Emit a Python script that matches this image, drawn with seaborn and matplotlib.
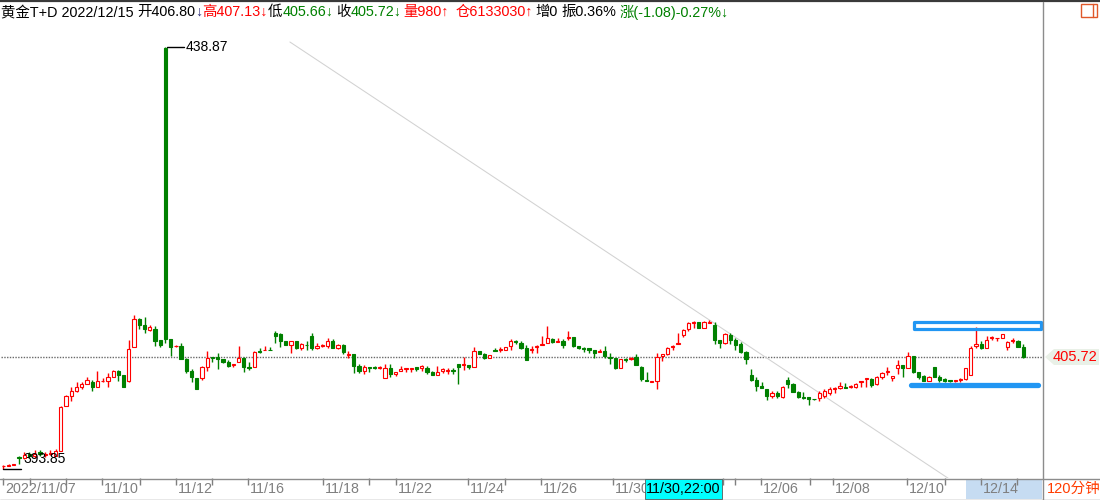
import matplotlib
matplotlib.use("Agg")
import matplotlib.pyplot as plt
import matplotlib.transforms as mtransforms
from matplotlib.patches import Rectangle, Polygon
from matplotlib.lines import Line2D
import seaborn as sns
import numpy as np

# --- data: 黄金T+D, 120分钟 bars, 2022/11/07 .. 2022/12/15 ---
opens = [
    394.10, 394.15, 394.28, 395.15, 395.00, 395.40, 395.20, 395.60, 395.30, 395.45,
    395.24, 395.77, 400.58, 401.61, 402.18, 402.60, 402.92, 403.10, 402.60, 403.20,
    403.21, 403.67, 404.28, 403.85, 403.21, 406.87, 409.80, 409.19, 408.70, 408.80,
    407.59, 438.70, 407.66, 406.90, 406.95, 405.60, 404.28, 403.50, 403.53, 404.74,
    405.74, 405.74, 405.55, 405.24, 404.90, 405.20, 405.70, 404.70, 404.74, 406.45,
    406.50, 406.55, 408.30, 408.20, 407.48, 407.05, 407.48, 406.70, 407.10, 408.01,
    406.70, 406.95, 406.98, 407.48, 406.70, 407.05, 406.00, 406.10, 404.81, 404.31,
    404.70, 404.75, 404.65, 403.50, 404.57, 403.96, 404.30, 404.45, 404.45, 404.67,
    404.60, 404.63, 404.14, 403.85, 404.30, 404.30, 404.40, 405.00, 404.90, 404.92,
    404.74, 406.41, 406.09, 405.63, 406.56, 406.50, 406.55, 406.95, 407.45, 407.30,
    406.77, 406.50, 406.80, 407.00, 407.23, 407.70, 407.40, 407.48, 407.80, 407.88,
    406.95, 406.70, 406.77, 406.52, 406.30, 406.41, 405.80, 405.70, 404.63, 405.55,
    405.53, 405.74, 404.74, 403.30, 403.15, 403.25, 405.90, 406.09, 406.80, 407.20,
    408.12, 408.73, 409.37, 409.47, 408.90, 409.40, 409.19, 407.59, 407.30, 408.12,
    407.59, 407.13, 406.34, 403.85, 403.32, 402.71, 402.36, 401.61, 401.97, 401.54,
    403.32, 402.89, 402.07, 401.54, 401.47, 401.30, 401.36, 401.61, 401.97, 402.40,
    402.50, 402.55, 402.60, 402.60, 403.15, 403.40, 403.39, 402.86, 403.61, 404.20,
    403.55, 404.63, 404.92, 404.63, 405.88, 404.14, 403.75, 403.25, 404.74, 403.67,
    403.40, 403.30, 403.20, 403.30, 403.43, 403.85, 406.95, 407.16, 406.70, 407.75,
    407.75, 407.84, 406.87, 407.50, 407.50, 406.80,
]
highs = [
    394.30, 394.35, 394.35, 395.20, 395.60, 395.60, 395.80, 395.80, 395.60, 395.85,
    395.93, 400.54, 401.72, 402.54, 403.10, 403.14, 403.64, 403.30, 404.30, 403.50,
    404.10, 404.40, 404.35, 403.90, 407.60, 410.26, 409.90, 410.07, 409.20, 409.10,
    407.60, 438.87, 407.70, 407.00, 407.27, 405.65, 404.50, 403.50, 404.81, 406.45,
    405.75, 406.23, 405.60, 405.40, 405.02, 406.95, 405.75, 405.20, 406.40, 406.70,
    406.90, 406.80, 408.55, 408.30, 407.50, 407.50, 407.50, 407.30, 407.48, 408.37,
    407.30, 407.20, 407.77, 407.65, 407.20, 407.16, 406.40, 406.10, 405.00, 404.92,
    404.70, 404.85, 404.78, 404.99, 404.99, 404.20, 404.80, 404.57, 404.57, 404.70,
    404.92, 404.80, 404.30, 404.81, 404.60, 404.55, 404.55, 405.00, 405.74, 404.92,
    406.84, 406.41, 406.20, 405.95, 406.70, 406.80, 406.80, 407.66, 407.60, 407.50,
    407.10, 406.95, 407.10, 408.00, 409.08, 407.80, 407.77, 407.70, 408.55, 407.90,
    406.95, 406.80, 406.77, 406.52, 406.60, 406.95, 406.23, 405.70, 405.60, 405.70,
    405.80, 406.09, 404.80, 404.13, 403.25, 406.23, 406.10, 406.80, 407.05, 408.30,
    408.76, 409.50, 409.60, 409.50, 409.60, 409.70, 409.47, 407.60, 408.30, 408.30,
    407.77, 407.40, 406.40, 404.49, 403.67, 403.10, 402.40, 402.10, 402.14, 402.70,
    403.67, 402.95, 402.14, 402.00, 401.50, 401.30, 402.14, 402.36, 402.60, 402.60,
    403.07, 403.00, 402.80, 403.05, 403.25, 403.50, 403.50, 403.70, 404.20, 404.70,
    403.70, 405.45, 404.95, 406.34, 405.90, 404.20, 403.80, 403.75, 404.74, 403.85,
    403.50, 403.35, 403.35, 403.50, 404.63, 406.90, 409.00, 407.50, 408.00, 408.00,
    407.80, 408.20, 407.50, 407.80, 407.60, 407.13,
]
lows = [
    393.85, 394.10, 394.25, 394.35, 394.90, 395.00, 395.00, 395.20, 395.10, 395.30,
    395.20, 395.71, 400.50, 401.11, 402.00, 402.40, 402.86, 402.15, 402.60, 403.15,
    402.60, 403.60, 403.20, 402.55, 403.14, 406.80, 408.73, 408.37, 408.50, 406.95,
    406.87, 407.24, 405.88, 406.85, 405.60, 404.10, 403.14, 402.36, 403.32, 404.31,
    405.20, 404.50, 405.10, 404.70, 404.70, 405.20, 404.20, 404.40, 404.70, 406.20,
    406.50, 406.50, 407.30, 406.87, 407.00, 406.23, 406.60, 406.50, 406.52, 406.52,
    406.60, 406.85, 406.70, 406.70, 406.60, 406.10, 405.63, 404.10, 404.10, 403.93,
    404.20, 404.50, 404.50, 403.50, 403.60, 403.70, 404.30, 404.20, 404.20, 404.30,
    404.31, 404.00, 403.85, 403.85, 404.10, 404.00, 403.95, 402.89, 404.39, 404.50,
    404.74, 406.10, 405.60, 405.63, 406.45, 406.34, 406.55, 406.52, 407.20, 406.60,
    405.45, 406.23, 406.23, 407.00, 407.23, 407.23, 407.40, 406.77, 407.59, 406.80,
    406.60, 406.30, 406.20, 405.63, 406.30, 405.63, 405.00, 404.50, 404.60, 405.20,
    405.50, 404.92, 403.25, 403.20, 403.10, 402.36, 405.35, 406.00, 406.52, 407.16,
    407.90, 408.60, 408.90, 408.90, 408.85, 409.40, 407.16, 406.70, 407.20, 407.16,
    406.52, 406.20, 404.99, 403.25, 402.14, 402.43, 401.18, 401.40, 401.40, 401.40,
    402.50, 402.07, 401.40, 401.25, 400.65, 401.20, 401.08, 401.36, 401.72, 401.90,
    402.36, 402.45, 402.50, 402.50, 402.60, 402.60, 402.60, 402.80, 403.40, 403.80,
    403.25, 403.96, 403.60, 404.63, 404.10, 403.40, 403.20, 403.25, 403.60, 403.15,
    403.15, 403.15, 403.15, 403.15, 403.32, 403.85, 406.70, 406.60, 406.70, 407.60,
    407.50, 407.84, 406.52, 407.30, 406.80, 405.66,
]
closes = [
    394.17, 394.22, 394.32, 395.00, 395.30, 395.20, 395.45, 395.40, 395.45, 395.55,
    395.74, 400.47, 401.61, 402.14, 402.54, 402.90, 403.32, 402.60, 403.20, 403.25,
    403.64, 404.28, 403.85, 402.60, 406.60, 409.80, 409.19, 408.73, 408.95, 407.50,
    407.05, 407.66, 406.81, 406.95, 405.60, 404.31, 403.67, 402.36, 404.67, 405.70,
    405.65, 405.60, 405.27, 404.85, 405.00, 405.63, 404.74, 404.65, 406.34, 406.30,
    406.55, 406.50, 408.00, 407.48, 407.05, 407.48, 406.70, 407.19, 407.05, 406.77,
    406.95, 407.05, 407.48, 406.77, 407.05, 406.34, 406.10, 404.85, 404.31, 404.67,
    404.60, 404.65, 404.75, 404.57, 403.96, 404.20, 404.50, 404.55, 404.55, 404.50,
    404.80, 404.14, 403.85, 404.14, 404.45, 404.40, 404.30, 404.70, 405.00, 404.67,
    406.41, 406.12, 405.70, 405.95, 406.45, 406.60, 406.80, 407.48, 407.35, 406.77,
    405.45, 406.60, 406.95, 407.20, 407.77, 407.40, 407.50, 407.05, 407.90, 406.95,
    406.70, 406.60, 406.55, 406.20, 406.40, 405.91, 405.70, 404.57, 405.53, 405.40,
    405.70, 404.92, 403.43, 403.20, 403.20, 405.80, 406.10, 406.70, 406.95, 407.30,
    408.65, 409.37, 409.50, 408.90, 409.47, 409.55, 407.59, 407.23, 408.20, 407.59,
    407.05, 406.34, 405.53, 403.32, 402.71, 402.43, 401.61, 401.97, 401.61, 402.60,
    402.89, 402.07, 401.54, 401.36, 401.29, 401.25, 401.97, 402.14, 402.36, 402.50,
    402.65, 402.48, 402.72, 402.89, 403.25, 403.50, 402.79, 403.61, 404.03, 404.30,
    403.70, 404.92, 404.63, 405.88, 404.20, 403.67, 403.25, 403.61, 403.67, 403.32,
    403.25, 403.20, 403.30, 403.40, 404.57, 406.77, 407.16, 406.70, 407.59, 407.90,
    407.80, 408.20, 407.40, 407.60, 406.87, 405.72,
]

# day ticks on the time axis (bar positions) and the dates printed beside them
tick_pos = [-0.05, 5.1, 12.0, 18.9, 26.1, 33.0, 39.9, 46.8, 61.1, 69.9, 75.1, 88.9,
            95.9, 102.8, 116.6, 137.6, 139.9, 144.9, 154.2, 158.6, 172.8, 180.1,
            186.9, 193.8]
tick_labels = ["2022/11/07", "", "", "11/10", "", "11/12", "", "11/16", "11/18", "",
               "11/22", "11/24", "", "11/26", "11/30", "", "", "12/06", "", "12/08",
               "12/10", "", "12/14", ""]

# header quote values
symbol = "黄金T+D"
quote_date = "2022/12/15"
volume = 980
open_interest = 6133030
oi_change = 0
amplitude = "0.36%"
change = "(-1.08)-0.27%"

# user drawings: trend line and the two blue range marks
trend_x = [54.8, 182.0]
trend_y = [439.39, 392.34]
box_top = [408.80, 409.51]
box_bottom = 402.79
box_x = [174.1, 198.5]

RED = "#ff0000"
GREEN = "#008000"
GREY = "#7f7f7f"
BLUE = "#2196f3"
FAM = ["Liberation Sans", "Noto Sans CJK SC", "DejaVu Sans"]

sns.set_theme(style="white")
plt.rcParams["font.family"] = FAM

W, H = 1100, 500
fig = plt.figure(figsize=(11, 5), dpi=100)
fig.patch.set_facecolor("white")
ax = fig.add_axes([1 / W, 22 / H, 1042 / W, 475 / H])
ax.set_facecolor("white")
ax.set_xlim(-0.44, 198.8)
ax.set_ylim(392.86, 443.55)
for sp in ax.spines.values():
    sp.set_visible(False)
ax.set_yticks([])

# --- candles ---
o = np.array(opens)
c = np.array(closes)
h = np.array(highs)
l = np.array(lows)
x = np.arange(len(o))
up = c >= o
lo_b = np.minimum(o, c)
hi_b = np.maximum(o, c)
hgt = np.maximum(hi_b - lo_b, 0.04)

ax.vlines(x[up], l[up], h[up], color=RED, lw=1.0, zorder=2)
ax.vlines(x[~up], l[~up], h[~up], color=GREEN, lw=1.0, zorder=2)
ax.bar(x[up], hgt[up], bottom=lo_b[up], width=0.62, facecolor="white",
       edgecolor=RED, linewidth=0.8, zorder=3)
ax.bar(x[~up], hgt[~up], bottom=lo_b[~up], width=0.62, facecolor=GREEN,
       edgecolor=GREEN, linewidth=0.8, zorder=3)

# last price dotted line
last = closes[-1]
ax.axhline(last, color="#6a6a6a", lw=1.0, ls=(0, (1, 1)), zorder=1)

# trend line
ax.plot(trend_x, trend_y, color="#d2d2d2", lw=0.75, zorder=1)

# blue range marks
ax.add_patch(Rectangle((box_x[0], box_top[0]), box_x[1] - box_x[0], box_top[1] - box_top[0],
                       fill=False, edgecolor=BLUE, lw=2.3, joinstyle="round", zorder=4))
ax.plot([box_x[0] - 0.5, box_x[1] - 0.6], [box_bottom, box_bottom], color=BLUE, lw=3.8,
        solid_capstyle="round", zorder=4)

# max / min markers
imax = int(np.argmax(h))
imin = int(np.argmin(l))
ax.plot([imax + 0.3, imax + 3.5], [h[imax], h[imax]], color="black", lw=1.0, zorder=4)
ax.text(imax + 3.8, h[imax], f"{h[imax]:.2f}", fontsize=10, color="black",
        ha="left", va="center", zorder=5)
ax.plot([imin, imin + 3.4], [l[imin], l[imin]], color="black", lw=1.0, zorder=4)
ax.text(imin + 3.8, l[imin] + 0.3, f"{l[imin]:.2f}", fontsize=10, color="black",
        ha="left", va="bottom", zorder=5)

# --- time axis ---
ax.set_xticks(tick_pos)
ax.set_xticklabels([])
ax.tick_params(axis="x", bottom=True, direction="out", length=5, width=1, colors=GREY)
lab_tf = mtransforms.offset_copy(ax.get_xaxis_transform(), fig=fig, x=2, y=-11, units="dots")
for pos, lab in zip(tick_pos, tick_labels):
    if lab:
        ax.text(pos, 0, lab, transform=lab_tf, ha="left", va="center", color=GREY,
                fontsize=10.3, clip_on=False, zorder=5)

# current-day band under 12/14 and crosshair time tag
ax.add_patch(Rectangle((966 / W, 1 - 499 / H), 76 / W, 20 / H, transform=fig.transFigure,
                       facecolor="#c6dcf2", edgecolor="none", clip_on=False, zorder=0.5))
fig.add_artist(Rectangle((645 / W, 1 - 499 / H), 77 / W, 20 / H, transform=fig.transFigure,
                         facecolor="#00ffff", edgecolor="#5a5a5a", lw=0.6, zorder=3))
fig.text(683 / W, 1 - 489 / H, "11/30,22:00", ha="center", va="center", fontsize=10.3,
         color="black", zorder=4)

# --- frame lines ---
def fline(xs, ys, col, lw):
    fig.add_artist(Line2D([v / W for v in xs], [1 - v / H for v in ys],
                          transform=fig.transFigure, color=col, lw=lw, zorder=2))

fline([0, 1100], [1, 1], "#3a3a3a", 1.6)
fline([1043, 1043], [2, 500], "#8c8c8c", 1.0)
fline([0, 1100], [478.5, 478.5], "#8c8c8c", 1.0)
fline([0, 1100], [499.5, 499.5], "#8c8c8c", 1.0)

# right axis price tag
tag = [(1045, 357), (1054, 349), (1099, 349), (1099, 365), (1054, 365)]
fig.add_artist(Polygon([(px / W, 1 - py / H) for px, py in tag], closed=True,
                       transform=fig.transFigure, facecolor="#e9f0e7", edgecolor="none", zorder=2))
fig.text(1097 / W, 1 - 357 / H, f"{last:.2f}", ha="right", va="center", fontsize=10.5,
         color=RED, zorder=3)
fig.text(1047 / W, 1 - 489 / H, "120分钟", ha="left", va="center", fontsize=10.5,
         color="#ff3c00", zorder=3)

# top-right window icon
fig.add_artist(Rectangle((1081 / W, 1 - 17 / H), 16 / W, 13 / H, transform=fig.transFigure,
                         fill=False, edgecolor="#e0582a", lw=1.0, zorder=3))
fline([1093, 1093], [4, 17], "#e0582a", 1.0)

# --- header quote line ---
renderer = fig.canvas.get_renderer()


def text_run(x0, y0, pieces, size=10.4):
    xx = x0
    for s, col in pieces:
        t = fig.text(xx / W, 1 - y0 / H, s, color=col, fontsize=size, ha="left",
                     va="center", zorder=5)
        xx = t.get_window_extent(renderer).x1


hy = 12
text_run(1, hy, [(f"{symbol} {quote_date}", "black")])
text_run(137, hy, [(f"开{opens[-1]:.2f}", "black"), ("↓", "#30307a")])
text_run(202, hy, [(f"高{highs[-1]:.2f}↓", RED)])
text_run(268, hy, [("低", "black"), (f"{lows[-1]:.2f}↓", GREEN)])
text_run(336, hy, [("收", "black"), (f"{closes[-1]:.2f}↓", GREEN)])
text_run(403, hy, [(f"量{volume}↑", RED)])
text_run(456, hy, [(f"仓{open_interest}↑", RED)])
text_run(535, hy, [(f"增{oi_change}", "black")])
text_run(561, hy, [(f"振{amplitude}", "black")])
text_run(620, hy, [(f"涨{change}↓", GREEN)])

fig.savefig("out.png", dpi=100, facecolor="white")
